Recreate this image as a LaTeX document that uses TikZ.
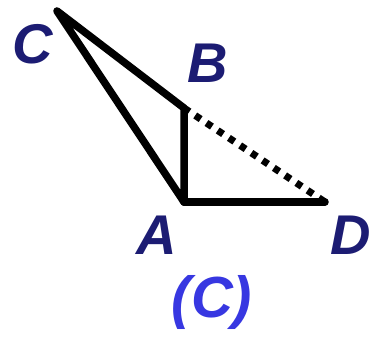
\documentclass[tikz,border=0pt]{standalone}
\usepackage{fontspec}
\setmainfont{Liberation Sans}
\definecolor{navy}{RGB}{28,28,115}
\definecolor{lblue}{RGB}{55,55,225}
\begin{document}
\begin{tikzpicture}[x=1pt,y=-1pt,
  seg/.style={line width=7.5pt,line cap=round,line join=round},
  dotseg/.style={line width=7pt,dash pattern=on 6.5pt off 7pt},
  lbl/.style={text=navy,font=\fontsize{56}{56}\selectfont\bfseries\itshape,inner sep=0pt},
  captionlbl/.style={text=lblue,font=\fontsize{58}{58}\selectfont\bfseries\itshape,inner sep=0pt}]
\useasboundingbox (0,0) rectangle (374,337);
\coordinate (C) at (57,11);
\coordinate (B) at (184,108);
\coordinate (A) at (184,202);
\coordinate (D) at (325,202);
\draw[seg] (C) -- (B) -- (A) -- cycle;
\draw[seg] (A) -- (D);
\draw[dotseg] (B) -- (D);
\node[lbl] (lC) at (33,44) {C};
\node[lbl] (lB) at (208,63) {B};
\node[lbl] (lA) at (157,235) {A};
\node[lbl] (lD) at (351,235) {D};
\node[captionlbl] (cp) at (212,302) {(C)};
\end{tikzpicture}
\end{document}
